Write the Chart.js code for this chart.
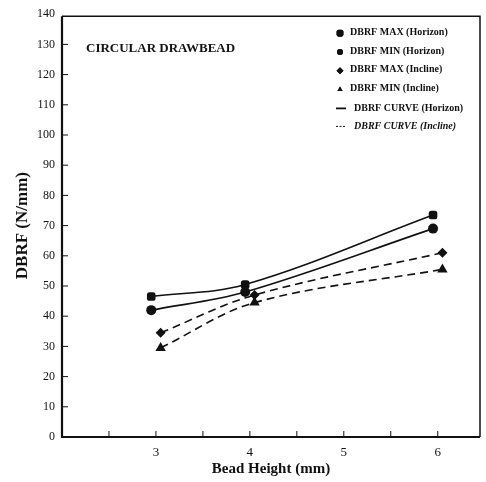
<!DOCTYPE html>
<html>
<head>
<meta charset="utf-8">
<script src="https://cdn.jsdelivr.net/npm/chart.js@4/dist/chart.umd.min.js"></script>
<style>
  html, body { margin: 0; padding: 0; background: #fff; }
  canvas { display: block; }
</style>
</head>
<body>
<canvas id="chart" width="486" height="482"></canvas>
<script>
// bead height positions (horizon markers sit a hair left, incline a hair right)
const heightsHorizon = [2.95, 3.95, 5.95];
const heightsIncline = [3.05, 4.05, 6.05];

// DBRF values, N/mm
const maxHorizon = [46.5, 50.5, 73.5];
const minHorizon = [42, 48, 69];
const maxIncline = [34.5, 47, 61];
const minIncline = [29.5, 44.5, 55.5];

const legendLabels = [
    'DBRF MAX (Horizon)',
    'DBRF MIN (Horizon)',
    'DBRF MAX (Incline)',
    'DBRF MIN (Incline)',
    'DBRF CURVE (Horizon)',
    'DBRF CURVE (Incline)'
];
const titleText = 'CIRCULAR DRAWBEAD';

const serif = '"Liberation Serif", "DejaVu Serif", serif';
const ink = '#111';

function toPoints(xs, ys) {
    return xs.map((x, i) => ({ x: x, y: ys[i] }));
}

function series(label, xs, ys, style, dashed, radius) {
    return {
        label: label,
        data: toPoints(xs, ys),
        showLine: true,
        tension: 0.35,
        borderColor: ink,
        backgroundColor: ink,
        borderWidth: 1.6,
        borderDash: dashed ? [8, 5] : [],
        pointStyle: style,
        pointRadius: radius,
        pointBorderWidth: 0
    };
}

// box frame, inward ticks, title and legend
const decorations = {
    id: 'decorations',
    afterDraw(chart) {
        const ctx = chart.ctx;
        const a = chart.chartArea;
        const xs = chart.scales.x;
        const ys = chart.scales.y;
        ctx.save();
        ctx.strokeStyle = ink;

        ctx.lineWidth = 1.5;
        ctx.beginPath();
        ctx.moveTo(a.left, a.top + 2);
        ctx.lineTo(a.right, a.top + 2);
        ctx.lineTo(a.right, a.bottom);
        ctx.stroke();
        ctx.lineWidth = 2.2;
        ctx.beginPath();
        ctx.moveTo(a.left, a.top + 2);
        ctx.lineTo(a.left, a.bottom);
        ctx.lineTo(a.right, a.bottom);
        ctx.stroke();

        ctx.lineWidth = 1;
        ys.ticks.forEach(t => {
            if (t.value >= 140) return;
            const y = ys.getPixelForValue(t.value);
            ctx.beginPath();
            ctx.moveTo(a.left, y);
            ctx.lineTo(a.left + 6, y);
            ctx.stroke();
        });
        xs.ticks.forEach(t => {
            const x = xs.getPixelForValue(t.value);
            ctx.beginPath();
            ctx.moveTo(x, a.bottom);
            ctx.lineTo(x, a.bottom - 6);
            ctx.stroke();
        });

        ctx.fillStyle = ink;
        ctx.textBaseline = 'middle';
        ctx.font = 'bold 13px ' + serif;
        ctx.fillText(titleText, a.left + 24, a.top + 34);

        // legend
        const lx = a.left + 278;
        let ly = a.top + 18;
        chart.data.datasets.forEach((ds, i) => {
            const r = [4, 3, 3.5, 3][i];
            ctx.beginPath();
            Chart.helpers.drawPoint(ctx, { pointStyle: ds.pointStyle, radius: r, borderWidth: 0 }, lx, ly + 1);
            ctx.fill();
            ctx.font = 'bold 10px ' + serif;
            ctx.fillText(legendLabels[i], lx + 10, ly);
            ly += 18.8;
        });
        ly += 1;
        [[], [2, 1.5]].forEach((dash, k) => {
            ctx.setLineDash(dash);
            ctx.lineWidth = k === 0 ? 1.8 : 1;
            ctx.beginPath();
            ctx.moveTo(lx - 4, ly);
            ctx.lineTo(lx + 6, ly);
            ctx.stroke();
            ctx.setLineDash([]);
            ctx.font = (k === 1 ? 'italic ' : '') + 'bold 10px ' + serif;
            ctx.fillText(legendLabels[4 + k], lx + 14, ly);
            ly += 18;
        });
        ctx.restore();
    }
};

new Chart(document.getElementById('chart'), {
    type: 'scatter',
    data: {
        datasets: [
            series(legendLabels[0], heightsHorizon, maxHorizon, 'rectRounded', false, 5),
            series(legendLabels[1], heightsHorizon, minHorizon, 'circle', false, 5),
            series(legendLabels[2], heightsIncline, maxIncline, 'rectRot', true, 5),
            series(legendLabels[3], heightsIncline, minIncline, 'triangle', true, 6)
        ]
    },
    options: {
        responsive: false,
        animation: false,
        layout: { padding: { top: 11, right: 5, left: 0, bottom: 0 } },
        plugins: {
            legend: { display: false },
            tooltip: { enabled: false }
        },
        scales: {
            x: {
                type: 'linear',
                min: 2,
                max: 6.45,
                afterFit(scale) { scale.height = 45; },
                afterBuildTicks(scale) {
                    scale.ticks = [2.5, 3, 3.5, 4, 4.5, 5, 5.5, 6].map(v => ({ value: v }));
                },
                grid: { display: false, drawTicks: false },
                border: { display: false },
                ticks: {
                    color: ink,
                    padding: 8,
                    maxRotation: 0,
                    autoSkip: false,
                    font: { family: serif, size: 13 },
                    callback: v => Number.isInteger(v) ? String(v) : ''
                },
                title: {
                    display: true,
                    text: 'Bead Height (mm)',
                    color: ink,
                    padding: { top: 4 },
                    font: { family: serif, size: 15, weight: 'bold' }
                }
            },
            y: {
                min: 0,
                max: 140,
                afterFit(scale) { scale.width = 62; },
                grid: { display: false, drawTicks: false },
                border: { display: false },
                ticks: {
                    stepSize: 10,
                    color: ink,
                    padding: 7,
                    font: { family: serif, size: 12 }
                },
                title: {
                    display: true,
                    text: 'DBRF (N/mm)',
                    color: ink,
                    padding: { top: 12, bottom: 0 },
                    font: { family: serif, size: 17, weight: 'bold' }
                }
            }
        }
    },
    plugins: [decorations]
});
</script>
</body>
</html>
